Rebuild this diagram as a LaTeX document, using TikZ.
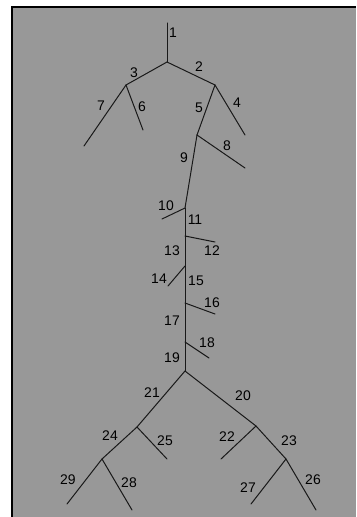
\documentclass[tikz,border=0pt]{standalone}
\usepackage{fontspec}
\setmainfont{Liberation Sans}
\usetikzlibrary{positioning}
\definecolor{panelgray}{HTML}{989898}
\tikzset{
  % tree
  seg/.style={draw=black!90,line width=1pt,line cap=round},
  lbl/.style={font=\fontsize{14}{16}\selectfont,inner sep=0pt,text=black},
  frame/.style={draw=black,line width=2bp},
}

\begin{document}
\begin{tikzpicture}[x=1bp,y=-1bp]
\useasboundingbox (0,0) rectangle (356,517);
  \fill[white] (0,0) rectangle (356,517);
  \fill[panelgray] (12,7) rectangle (356,517);
  \draw[frame] (12,517) -- (12,7) -- (356,7);
  % junctions and ends
  \coordinate (top) at (167,23);
  \coordinate (a) at (167,62);
  \coordinate (b) at (126,85);
  \coordinate (c) at (215,85);
  \coordinate (d) at (197,135);
  \coordinate (e) at (185,208);
  \coordinate (f) at (185,236);
  \coordinate (g) at (185,266);
  \coordinate (h) at (185,303);
  \coordinate (i) at (185,342);
  \coordinate (j) at (185,371);
  \coordinate (k) at (137,427);
  \coordinate (l) at (256,426);
  \coordinate (m) at (102,459);
  \coordinate (n) at (286,459);
  \coordinate (x4) at (245,135);
  \coordinate (x6) at (143,130);
  \coordinate (x7) at (84,146);
  \coordinate (x8) at (245,168);
  \coordinate (x10) at (162,219);
  \coordinate (x12) at (215,242);
  \coordinate (x14) at (168,286);
  \coordinate (x16) at (215,314);
  \coordinate (x18) at (209,358);
  \coordinate (x22) at (221,459);
  \coordinate (x25) at (167,459);
  \coordinate (x26) at (316,510);
  \coordinate (x27) at (251,504);
  \coordinate (x28) at (132,510);
  \coordinate (x29) at (67,504);
  % branches
  \foreach \p/\q in {top/a,a/c,a/b,c/x4,c/d,b/x6,b/x7,d/x8,d/e,e/x10,e/f,f/x12,
                     f/g,g/x14,g/h,h/x16,h/i,i/x18,i/j,j/l,j/k,l/x22,l/n,
                     k/x25,k/m,n/x26,n/x27,m/x28,m/x29}
    \draw[seg] (\p) -- (\q);
  % numbers
  \foreach \t/\x/\y in {1/173/33,2/199/67,3/134/73,4/237/103,5/199/108,6/142/107,
                        7/101/106,8/227/146,9/184/158,10/166/206,11/195/220,
                        12/212/251,13/172/251,14/159/279,15/196/281,16/212/303,
                        17/172/321,18/207/343,19/172/358,20/243/396,21/152/393,
                        22/227/437,23/289/441,24/110/436,25/165/441,26/313/480,
                        27/248/488,28/129/483,29/68/480}
    \node[lbl] (n\t) at (\x,\y) {\t};
\end{tikzpicture}
\end{document}
